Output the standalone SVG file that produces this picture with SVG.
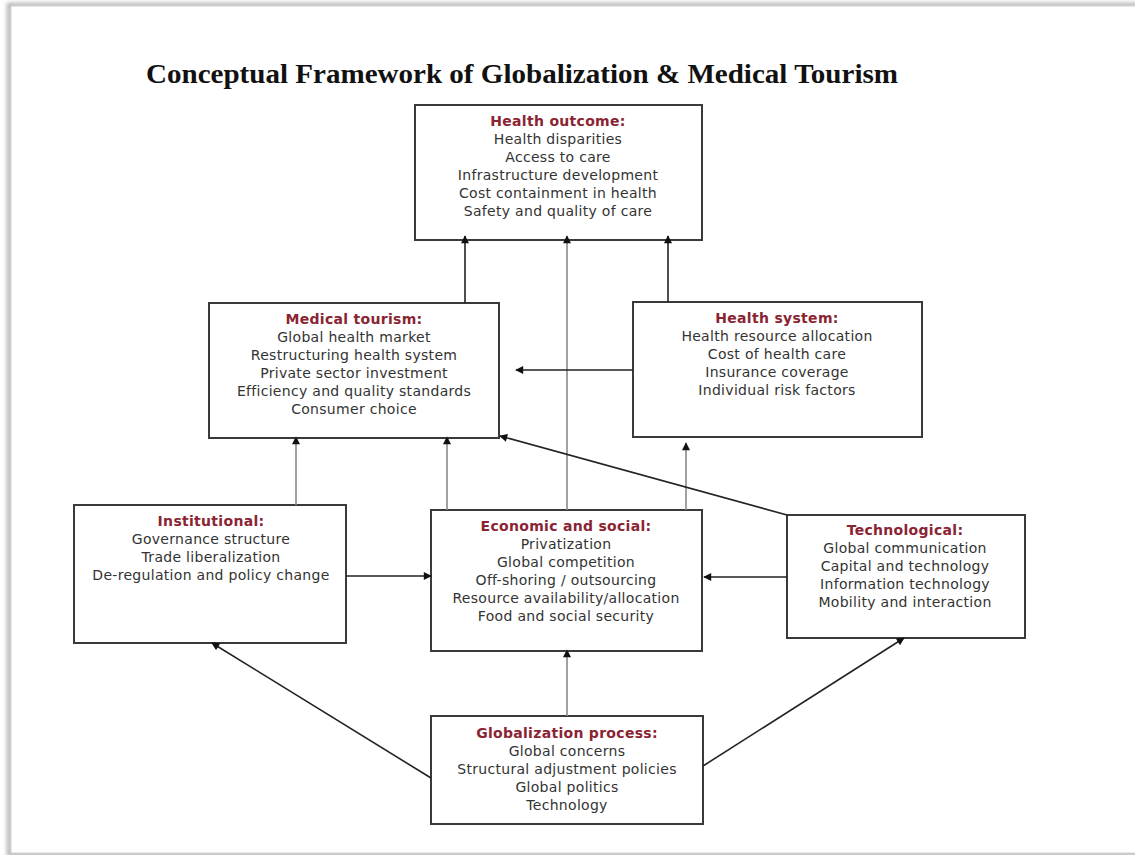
<svg xmlns="http://www.w3.org/2000/svg" width="1135" height="855" viewBox="0 0 1135 855">
<defs>
<marker id="ah" viewBox="0 0 10 10" refX="9" refY="5" markerWidth="9" markerHeight="8" markerUnits="userSpaceOnUse" orient="auto">
<path d="M0,0 L10,5 L0,10 z" fill="#111"/>
</marker>
<filter id="sh" x="-5%" y="-5%" width="110%" height="110%"><feGaussianBlur stdDeviation="2"/></filter>
<style>
.box{fill:#fff;stroke:#3a3a3a;stroke-width:2}
.hd{font-family:"DejaVu Sans",sans-serif;font-size:14px;letter-spacing:0.3px;font-weight:bold;fill:#8a2433;text-anchor:middle}
.tx{font-family:"DejaVu Sans",sans-serif;font-size:14px;letter-spacing:0.3px;fill:#333;text-anchor:middle}
.ttl{font-family:"Liberation Serif",serif;font-size:28px;font-weight:bold;fill:#111}
.dk{stroke:#222;stroke-width:1.6;fill:none;marker-end:url(#ah)}
.lt{stroke:#8a8a8a;stroke-width:1.6;fill:none;marker-end:url(#ah)}
</style>
</defs>
<rect width="1135" height="855" fill="#fff"/>
<g id="page">
<rect x="9" y="5" width="1140" height="849" fill="none" stroke="#aaa" stroke-width="4" filter="url(#sh)"/>
<rect x="11" y="6" width="1140" height="847" fill="#fff" stroke="#d0d0d0" stroke-width="1"/>
</g>
<text class="ttl" x="146" y="83" textLength="752" lengthAdjust="spacingAndGlyphs">Conceptual Framework of Globalization &amp; Medical Tourism</text>
<g id="health-outcome">
<rect class="box" x="415" y="105" width="287" height="135"/>
<text class="hd" x="558" y="126">Health outcome:</text>
<text class="tx" x="558" y="144">Health disparities</text>
<text class="tx" x="558" y="162">Access to care</text>
<text class="tx" x="558" y="180">Infrastructure development</text>
<text class="tx" x="558" y="198">Cost containment in health</text>
<text class="tx" x="558" y="216">Safety and quality of care</text>
</g>
<g id="medical-tourism">
<rect class="box" x="209" y="303" width="290" height="135"/>
<text class="hd" x="354" y="324">Medical tourism:</text>
<text class="tx" x="354" y="342">Global health market</text>
<text class="tx" x="354" y="360">Restructuring health system</text>
<text class="tx" x="354" y="378">Private sector investment</text>
<text class="tx" x="354" y="396">Efficiency and quality standards</text>
<text class="tx" x="354" y="414">Consumer choice</text>
</g>
<g id="health-system">
<rect class="box" x="633" y="302" width="289" height="135"/>
<text class="hd" x="777" y="323">Health system:</text>
<text class="tx" x="777" y="341">Health resource allocation</text>
<text class="tx" x="777" y="359">Cost of health care</text>
<text class="tx" x="777" y="377">Insurance coverage</text>
<text class="tx" x="777" y="395">Individual risk factors</text>
</g>
<g id="institutional">
<rect class="box" x="74" y="505" width="272" height="138"/>
<text class="hd" x="211" y="526">Institutional:</text>
<text class="tx" x="211" y="544">Governance structure</text>
<text class="tx" x="211" y="562">Trade liberalization</text>
<text class="tx" x="211" y="580">De-regulation and policy change</text>
</g>
<g id="economic-social">
<rect class="box" x="431" y="510" width="271" height="141"/>
<text class="hd" x="566" y="531">Economic and social:</text>
<text class="tx" x="566" y="549">Privatization</text>
<text class="tx" x="566" y="567">Global competition</text>
<text class="tx" x="566" y="585">Off-shoring / outsourcing</text>
<text class="tx" x="566" y="603">Resource availability/allocation</text>
<text class="tx" x="566" y="621">Food and social security</text>
</g>
<g id="technological">
<rect class="box" x="787" y="515" width="238" height="123"/>
<text class="hd" x="905" y="535">Technological:</text>
<text class="tx" x="905" y="553">Global communication</text>
<text class="tx" x="905" y="571">Capital and technology</text>
<text class="tx" x="905" y="589">Information technology</text>
<text class="tx" x="905" y="607">Mobility and interaction</text>
</g>
<g id="globalization-process">
<rect class="box" x="431" y="716" width="272" height="108"/>
<text class="hd" x="567" y="738">Globalization process:</text>
<text class="tx" x="567" y="756">Global concerns</text>
<text class="tx" x="567" y="774">Structural adjustment policies</text>
<text class="tx" x="567" y="792">Global politics</text>
<text class="tx" x="567" y="810">Technology</text>
</g>
<g id="connectors">
<line class="dk" x1="465" y1="303" x2="465" y2="236"/>
<line class="lt" x1="567" y1="510" x2="567" y2="236"/>
<line class="dk" x1="668" y1="302" x2="668" y2="236"/>
<line class="dk" x1="633" y1="370" x2="516" y2="370"/>
<line class="lt" x1="296" y1="505" x2="296" y2="437"/>
<line class="lt" x1="447" y1="510" x2="447" y2="437"/>
<line class="lt" x1="686" y1="510" x2="686" y2="443"/>
<line class="dk" x1="787" y1="515" x2="500" y2="436"/>
<line class="dk" x1="346" y1="576" x2="431" y2="576"/>
<line class="dk" x1="787" y1="577" x2="704" y2="577"/>
<line class="lt" x1="567" y1="716" x2="567" y2="650"/>
<line class="dk" x1="431" y1="778" x2="212" y2="643"/>
<line class="dk" x1="703" y1="766" x2="904" y2="638"/>
</g>
</svg>
